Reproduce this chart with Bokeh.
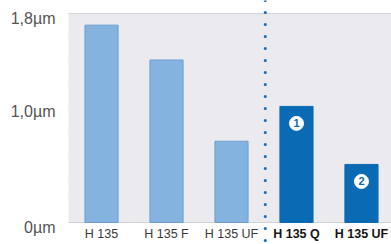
from bokeh.plotting import figure
from bokeh.models import FixedTicker, BoxAnnotation, Span, ColumnDataSource, Range1d, LinearAxis
from bokeh.core.properties import value
from bokeh.embed import file_html
from bokeh.resources import INLINE

# ---- data ----
categories = ["H 135", "H 135 F", "H 135 UF", "H 135 Q", "H 135 UF"]
values = [1.70, 1.40, 0.70, 1.00, 0.50]
highlight = [False, False, False, True, True]
badge_labels = ["1", "2"]
grid_ticks = [0.0, 0.2, 0.4, 0.6, 0.8, 1.0, 1.2, 1.4, 1.6, 1.8]
y_ticks = [0, 1, 1.8]
y_tick_labels = ["0µm", "1,0µm", "1,8µm"]
y_max = 1.8

FONT = "Liberation Sans"
LIGHT = "#84b3e0"
LIGHT_LINE = "#6e9ecf"
DARK = "#0b6ab4"

W, H = 391, 244
FRAME_LEFT = 68
PX_PER_UNIT = 116.1
ZERO_Y = 222
x0, x1 = -0.508, 4.462
y0 = -(H - ZERO_Y) / PX_PER_UNIT
y1 = ZERO_Y / PX_PER_UNIT
shift = 5 / PX_PER_UNIT  # tick labels sit slightly below their grid line

idx = list(range(len(categories)))

p = figure(width=W, height=H, output_backend="svg", toolbar_location=None,
           x_range=Range1d(x0, x1), y_range=Range1d(y0, y1),
           y_axis_location=None,
           min_border_left=FRAME_LEFT, min_border_right=0, min_border_top=0, min_border_bottom=0)
p.outline_line_color = None
p.background_fill_color = "white"
p.border_fill_color = "white"

# plot area background
p.add_layout(BoxAnnotation(bottom=0, top=y_max, right=x1 + 1, fill_color="#ebebef", fill_alpha=1,
                           line_color="#c6c6cb", line_width=1, level="underlay"))

# grid
p.xgrid.visible = False
p.ygrid.ticker = FixedTicker(ticks=grid_ticks)
p.ygrid.bounds = (0, y_max)
p.ygrid.grid_line_color = "#c3c3c8"
p.ygrid.grid_line_width = 1

# axes
p.xaxis.visible = False
p.extra_y_ranges = {"lab": Range1d(y0 + shift, y1 + shift)}
ya = LinearAxis(y_range_name="lab", ticker=FixedTicker(ticks=y_ticks))
ya.major_label_overrides = {t: l for t, l in zip(y_ticks, y_tick_labels)}
ya.axis_line_color = None
ya.major_tick_line_color = None
ya.minor_tick_line_color = None
ya.major_tick_out = 0
ya.major_tick_in = 0
ya.minor_tick_out = 0
ya.minor_tick_in = 0
ya.major_label_text_font = FONT
ya.major_label_text_font_size = "16px"
ya.major_label_text_color = "#555555"
ya.major_label_standoff = 13
p.add_layout(ya, "left")

# bars
src = ColumnDataSource(dict(
    x=idx, top=values,
    fill=[DARK if h else LIGHT for h in highlight],
    line=[DARK if h else LIGHT_LINE for h in highlight],
))
p.vbar(x="x", top="top", width=0.51, bottom=0, fill_color="fill", line_color="line",
       line_width=1, source=src)

# divider
div_x = (sum(1 for h in highlight if not h) - 1) + 0.52
p.add_layout(Span(location=div_x, dimension="height", line_color="#1a6fb8",
                  line_width=3.2, line_dash="0 12", line_cap="round"))

# badges
hx = [i for i, h in zip(idx, highlight) if h]
hv = [v for v, h in zip(values, highlight) if h]
badge_y = [v - 17 / PX_PER_UNIT for v in hv]
p.scatter(x=hx, y=badge_y, size=14, fill_color="white", line_color="white")
p.text(x=hx, y=badge_y, text=badge_labels, text_align="center", text_baseline="middle",
       text_font=value(FONT), text_font_size="11px", text_font_style="bold", text_color=DARK)

# category labels
label_y = -11 / PX_PER_UNIT
reg = [(i, c) for i, c, h in zip(idx, categories, highlight) if not h]
bold = [(i, c) for i, c, h in zip(idx, categories, highlight) if h]
p.text(x=[i for i, _ in reg], y=[label_y] * len(reg), text=[c for _, c in reg],
       text_align="center", text_baseline="middle", text_font=value(FONT),
       text_font_size="12.5px", text_color="#3a3a3a")
p.text(x=[i for i, _ in bold], y=[label_y] * len(bold), text=[c for _, c in bold],
       text_align="center", text_baseline="middle", text_font=value(FONT),
       text_font_size="12.5px", text_font_style="bold", text_color="#151515")

open("out.html", "w").write(file_html(p, INLINE))
